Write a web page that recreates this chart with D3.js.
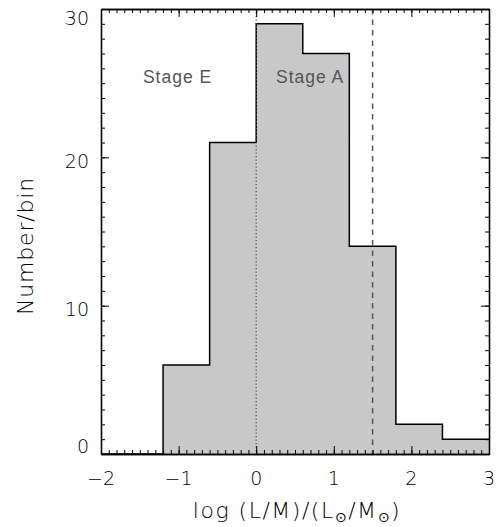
<!DOCTYPE html>
<meta charset="utf-8">
<style>
body { margin: 0; background: #fff; }
</style>
<body>
<script src="https://cdn.jsdelivr.net/npm/d3@7"></script>
<script>

// histogram bins (log L/M edges) and counts per bin
var binEdges = [-2.0, -1.2, -0.6, 0.0, 0.6, 1.2, 1.8, 2.4, 3.0];
var counts = [0, 6, 21, 29, 27, 14, 2, 1];
var xTicks = [-2, -1, 0, 1, 2, 3];
var yTicks = [0, 10, 20, 30];
var stageLines = [0.0, 1.5];
var stageLabels = ["Stage E", "Stage A"];

var width = 501, height = 527;
var margin = {left: 101, right: 12, top: 9, bottom: 73};
var font = "DejaVu Sans, Liberation Sans, sans-serif";

var svg = d3.select("body").append("svg")
    .attr("width", width)
    .attr("height", height)
    .style("display", "block");

var x = d3.scaleLinear().domain([-2, 3]).range([margin.left, width - margin.right]);
var y = d3.scaleLinear().domain([0, 30]).range([height - margin.bottom, margin.top]);

var line = d3.line().x(function(d) { return x(d[0]); }).y(function(d) { return y(d[1]); });

// filled histogram
var pts = [];
counts.forEach(function(c, i) {
  pts.push([binEdges[i], c], [binEdges[i + 1], c]);
});

svg.append("path")
    .datum(pts.concat([[3, 0], [-2, 0]]))
    .attr("fill", "#c8c8c8")
    .attr("d", line);

svg.append("path")
    .datum(pts)
    .attr("fill", "none")
    .attr("stroke", "#000")
    .attr("stroke-width", 1.5)
    .attr("d", line);

// stage boundaries
svg.append("path")
    .attr("d", line([[stageLines[0], 30], [stageLines[0], 0]]))
    .attr("fill", "none")
    .attr("stroke", "#555").attr("stroke-width", 1.2)
    .attr("stroke-dasharray", "1.2,2.3");

svg.append("path")
    .attr("d", line([[stageLines[1], 30], [stageLines[1], 0]]))
    .attr("fill", "none")
    .attr("stroke", "#555").attr("stroke-width", 1.5)
    .attr("stroke-dasharray", "5.5,5");

svg.selectAll("text.stage")
    .data([[-1.46, stageLabels[0]], [0.255, stageLabels[1]]])
  .enter().append("text")
    .attr("class", "stage")
    .attr("x", function(d) { return x(d[0]); })
    .attr("y", y(25))
    .attr("fill", "#555")
    .attr("font-family", "Liberation Sans, Arial, sans-serif")
    .attr("font-size", 17.5)
    .attr("letter-spacing", 1)
    .text(function(d) { return d[1]; });

// tick labels
svg.selectAll("text.xt")
    .data(xTicks)
  .enter().append("text")
    .attr("class", "xt")
    .attr("x", function(d) { return x(d); })
    .attr("y", y(0) + 31)
    .attr("text-anchor", "middle")
    .attr("font-family", font)
    .attr("font-size", 19)
    .attr("font-weight", 200)
    .text(function(d) { return d < 0 ? "\u2212" + (-d) : d; });

svg.selectAll("text.yt")
    .data(yTicks)
  .enter().append("text")
    .attr("class", "yt")
    .attr("x", x(-2) - 12)
    .attr("y", function(d) {
      var c = Math.max(y(30) + 9, Math.min(y(0) - 8, y(d) + 3.5));
      return c + 7;
    })
    .attr("text-anchor", "end")
    .attr("font-family", font)
    .attr("font-size", 19)
    .attr("font-weight", 200)
    .text(function(d) { return d; });

// axis titles
svg.append("text")
    .attr("transform", "translate(33,246) rotate(-90)")
    .attr("text-anchor", "middle")
    .attr("font-family", font)
    .attr("font-size", 22)
    .attr("font-weight", 200)
    .attr("letter-spacing", 0.8)
    .text("Number/bin");

var xl = svg.append("text")
    .attr("x", 297).attr("y", 518)
    .attr("text-anchor", "middle")
    .attr("font-family", font)
    .attr("font-size", 22)
    .attr("font-weight", 200)
    .attr("letter-spacing", 1.5);
xl.append("tspan").text("log (L/M)/(L");
xl.append("tspan").attr("dy", 4).attr("font-size", 14).text("\u2299");
xl.append("tspan").attr("dy", -4).text("/M");
xl.append("tspan").attr("dy", 4).attr("font-size", 14).text("\u2299");
xl.append("tspan").attr("dy", -4).text(")");

// frame box and inward ticks, drawn last with d3 axes
var xMinor = d3.range(0, 51).map(function(i) { return -2 + i / 10; });
var yMinor = d3.range(0, 31);

function axisGroup(axis, tx, ty) {
  var g = svg.append("g").attr("transform", "translate(" + tx + "," + ty + ")").call(axis);
  g.selectAll("text").remove();
  g.select(".domain").attr("stroke", "#000").attr("stroke-width", 1.3);
  g.selectAll(".tick line").attr("stroke", "#000").attr("stroke-width", 1);
  return g;
}

axisGroup(d3.axisTop(x).tickValues(xMinor).tickSizeInner(4).tickSizeOuter(0), 0, y(0));
axisGroup(d3.axisBottom(x).tickValues(xMinor).tickSizeInner(4).tickSizeOuter(0), 0, y(30));
axisGroup(d3.axisRight(y).tickValues(yMinor).tickSizeInner(4).tickSizeOuter(0), x(-2), 0);
axisGroup(d3.axisLeft(y).tickValues(yMinor).tickSizeInner(4).tickSizeOuter(0), x(3), 0);

axisGroup(d3.axisTop(x).tickValues(xTicks).tickSizeInner(8).tickSizeOuter(0), 0, y(0));
axisGroup(d3.axisBottom(x).tickValues(xTicks).tickSizeInner(8).tickSizeOuter(0), 0, y(30));
axisGroup(d3.axisRight(y).tickValues(yTicks).tickSizeInner(8).tickSizeOuter(0), x(-2), 0);
axisGroup(d3.axisLeft(y).tickValues(yTicks).tickSizeInner(8).tickSizeOuter(0), x(3), 0);

</script>
